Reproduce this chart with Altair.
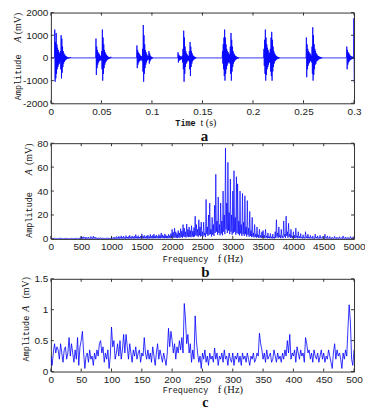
import altair as alt
import pandas as pd

# ---------------- Panel a : time signal (mV), bursts sampled every DT seconds
DT = 0.00035
BURST_STARTS = [0.0035, 0.0443, 0.0848, 0.1255, 0.1695, 0.2105, 0.2525, 0.2925]
B1 = [0, 1250, -1050, 700, -900, 1100, -700, 600, -500, 450, -400, 350, -300, 250, -250, 200, -150, 300, -500, 1000,
      -900, 850, -650, 500, -400, 300, -250, 200, -180, 150, -120, 100, -90, 80, -60, 50, -40, 40, -30, 30, -20, 20,
      -20, 15, -10, 40, -10, 10, 0]
B2 = [0, 850, -750, 500, -450, 350, -300, 250, -200, 200, -150, 150, -120, 100, -100, 80, -100, 300, -500, 1250,
      -1000, 900, -700, 600, -450, 350, -300, 250, -200, 180, -150, 120, -100, 90, -70, 60, -50, 40, -40, 30, -25, 20,
      -15, 50, -10, 10, -10, 0]
B3 = [0, 550, -450, 350, -300, 250, -200, 200, -150, 150, -120, 100, -100, 80, -80, 60, -150, 400, -600, 1450,
      -1050, 1000, -700, 600, -450, 350, -300, 250, -200, 150, -120, 100, -80, 80, -60, 300, -250, 200, -150, 100,
      -80, 60, -50, 40, -30, 20, -20, 10, 0]
B4 = [0, 250, -200, 150, -120, 100, -100, 80, -80, 60, -60, 50, -60, 100, -200, 400, -500, 1200, -1050, 900, -700,
      500, -400, 300, -250, 200, -200, 150, -120, 100, -100, 80, -150, 300, -500, 700, -800, 500, -400, 300, -250,
      200, -150, 120, -100, 80, -70, 60, -50, 40, -30, 30, -20, 10, 0]
B5 = [0, 300, -250, 600, -500, 900, -800, 1250, -1000, 900, -700, 600, -500, 400, -350, 300, -250, 250, -200, 200,
      -180, 150, -250, 500, -700, 1100, -1000, 800, -600, 500, -400, 300, -250, 200, -180, 150, -120, 100, -80, 80,
      -60, 50, -40, 40, -30, 30, -20, 20, -15, 10, -10, 0]
B6 = [0, 400, -350, 800, -700, 1250, -1000, 900, -750, 600, -500, 450, -400, 350, -300, 250, -200, 200, -200, 400,
      -600, 900, -800, 1150, -1000, 800, -600, 500, -400, 300, -250, 200, -150, 150, -120, 100, -80, 80, -60, 50, -40,
      40, -30, 30, -20, 20, -10, 0]
B7 = [0, 900, -850, 600, -500, 400, -350, 300, -250, 250, -200, 200, -150, 150, -120, 100, -200, 500, -700, 1350,
      -1000, 1000, -750, 600, -500, 400, -300, 300, -250, 200, -150, 150, -120, 100, -100, 80, -60, 60, -50, 50, -40,
      40, -30, 30, -20, 20, -10, 0]
B8 = [0, 500, -500, 350, -300, 250, -200, 200, -150, 150, -100, 100, -80, 80, -60, 60, -50, 50, -40, 40, -30, 1750,
      -1100]
BURSTS = [B1, B2, B3, B4, B5, B6, B7, B8]

# ---------------- Panel b : spectrum 0-5000 Hz, 10 Hz step (mV)
SPEC_B = [
    0.5, 0.1, 0.8, 0.2, 0.4, 0.1, 0.6, 0.2, 0.3, 0.1,
    0.7, 0.2, 0.4, 0.1, 0.5, 0.2, 0.9, 0.1, 0.4, 0.2,
    0.6, 0.1, 0.3, 0.2, 0.8, 0.1, 0.5, 0.2, 0.4, 0.1,
    0.6, 0.2, 0.3, 0.1, 0.7, 0.2, 0.4, 0.1, 0.5, 0.2,
    0.8, 0.1, 0.4, 0.2, 0.6, 0.1, 0.3, 0.2, 0.9, 0.1,
    2.2, 0.3, 1.5, 0.2, 1.8, 0.4, 1.2, 0.2, 1.6, 0.3,
    1.0, 0.2, 1.4, 0.3, 0.9, 0.2, 2.0, 0.4, 1.1, 0.2,
    2.3, 0.3, 1.2, 0.2, 1.5, 0.3, 0.8, 0.2, 1.0, 0.1,
    0.7, 0.2, 1.1, 0.1, 0.6, 0.2, 0.9, 0.1, 0.5, 0.2,
    0.8, 0.1, 0.6, 0.2, 1.0, 0.1, 0.7, 0.2, 0.5, 0.1,
    1.4, 0.2, 0.9, 0.3, 1.6, 0.2, 1.1, 0.3, 2.0, 0.2,
    1.2, 0.3, 2.2, 0.2, 1.4, 0.4, 2.6, 0.3, 1.5, 0.2,
    2.4, 0.4, 1.3, 0.2, 2.8, 0.5, 1.6, 0.3, 2.0, 0.2,
    3.0, 0.4, 1.5, 0.3, 2.5, 0.5, 1.8, 0.2, 2.2, 0.4,
    3.6, 0.5, 1.9, 0.3, 2.7, 0.4, 1.6, 0.3, 2.4, 0.5,
    4.2, 0.6, 2.3, 0.4, 3.0, 0.5, 1.8, 0.3, 2.6, 0.4,
    3.2, 0.5, 2.0, 0.4, 3.8, 0.6, 2.2, 0.4, 3.0, 0.5,
    4.0, 0.6, 2.5, 0.5, 3.2, 0.7, 2.0, 0.4, 3.6, 0.6,
    2.8, 0.5, 5.0, 0.8, 3.4, 0.6, 2.6, 0.5, 4.2, 0.7,
    3.0, 0.6, 2.4, 0.5, 3.8, 0.7, 2.8, 0.6, 4.5, 0.8,
    8.0, 1.0, 5.5, 0.8, 9.0, 1.2, 6.0, 1.0, 4.5, 0.8,
    7.0, 1.2, 5.0, 0.9, 8.5, 1.5, 6.5, 1.0, 12.0, 2.0,
    9.0, 1.5, 6.0, 1.2, 12.5, 2.0, 8.0, 1.5, 10.0, 1.8,
    7.0, 1.4, 11.0, 2.0, 6.5, 1.5, 9.5, 2.0, 19.0, 3.0,
    12.0, 2.5, 8.0, 1.8, 16.0, 3.0, 10.0, 2.0, 14.0, 2.5,
    6.0, 2.0, 14.0, 3.0, 5.0, 1.5, 33.0, 4.0, 10.0, 2.5,
    20.0, 3.5, 30.0, 4.0, 8.0, 2.0, 18.0, 3.5, 12.0, 2.5,
    28.0, 5.0, 54.0, 6.0, 15.0, 3.5, 35.0, 5.0, 12.0, 3.0,
    30.0, 4.5, 15.0, 3.0, 40.0, 6.0, 20.0, 4.0, 76.0, 8.0,
    30.0, 5.0, 64.0, 7.0, 22.0, 4.0, 50.0, 6.0, 20.0, 3.5,
    40.0, 5.0, 57.0, 6.0, 18.0, 3.5, 52.0, 5.0, 46.0, 4.0,
    15.0, 3.0, 40.0, 4.5, 12.0, 2.5, 38.0, 4.0, 14.0, 2.5,
    36.0, 4.0, 10.0, 2.0, 32.0, 3.5, 9.0, 1.8, 23.0, 2.5,
    7.0, 1.5, 18.0, 2.0, 5.0, 1.2, 12.0, 1.8, 4.0, 1.0,
    10.0, 1.5, 3.5, 0.8, 8.0, 1.2, 3.0, 0.7, 6.0, 1.0,
    7.0, 1.0, 3.0, 0.6, 8.0, 1.2, 2.5, 0.5, 5.0, 0.8,
    2.0, 0.5, 4.5, 0.7, 1.8, 0.4, 4.0, 0.6, 1.5, 0.4,
    6.0, 0.8, 16.0, 2.0, 5.0, 0.8, 10.0, 1.5, 3.0, 0.6,
    8.0, 1.2, 2.5, 0.6, 15.0, 2.0, 4.0, 0.8, 19.0, 2.5,
    6.0, 1.0, 13.0, 1.8, 4.0, 0.8, 8.0, 1.2, 2.5, 0.6,
    6.0, 0.8, 3.0, 0.6, 9.0, 1.2, 2.5, 0.5, 6.0, 0.8,
    2.0, 0.5, 4.5, 0.7, 1.5, 0.4, 3.5, 0.6, 1.2, 0.3,
    6.0, 0.8, 2.0, 0.5, 4.0, 0.6, 1.5, 0.4, 3.0, 0.5,
    1.2, 0.3, 2.5, 0.4, 1.0, 0.3, 4.0, 0.6, 1.5, 0.4,
    2.5, 0.4, 1.0, 0.3, 3.0, 0.5, 1.0, 0.3, 2.0, 0.4,
    0.8, 0.2, 4.0, 0.5, 1.2, 0.3, 2.5, 0.4, 1.0, 0.3,
    2.0, 0.4, 0.8, 0.2, 1.5, 0.3, 0.6, 0.2, 2.2, 0.4,
    0.8, 0.2, 1.5, 0.3, 0.6, 0.2, 1.8, 0.3, 0.7, 0.2,
    1.2, 0.3, 2.5, 0.4, 0.8, 0.2, 1.6, 0.3, 0.6, 0.2,
    1.4, 0.3, 0.5, 0.2, 2.0, 0.4, 0.7, 0.2, 1.5, 0.3,
    0.8,
]
STEP_B = 10

# ---------------- Panel c : spectrum 0-500 Hz, 2 Hz step (mV)
SPEC_C = [
    0.25, 0.1, 0.3, 0.45, 0.3, 0.4, 0.35, 0.2, 0.45, 0.3,
    0.15, 0.35, 0.4, 0.2, 0.3, 0.55, 0.25, 0.45, 0.3, 0.15,
    0.35, 0.2, 0.55, 0.1, 0.4, 0.5, 0.65, 0.3, 0.05, 0.25,
    0.3, 0.15, 0.35, 0.2, 0.25, 0.1, 0.3, 0.2, 0.35, 0.25,
    0.45, 0.5, 0.3, 0.4, 0.15, 0.3, 0.2, 0.35, 0.05, 0.25,
    0.72, 0.4, 0.5, 0.2, 0.3, 0.45, 0.25, 0.5, 0.2, 0.35,
    0.6, 0.3, 0.6, 0.4, 0.2, 0.45, 0.3, 0.15, 0.35, 0.25,
    0.4, 0.2, 0.3, 0.35, 0.15, 0.3, 0.25, 0.55, 0.3, 0.2,
    0.35, 0.2, 0.3, 0.15, 0.4, 0.25, 0.1, 0.3, 0.45, 0.2,
    0.35, 0.25, 0.15, 0.3, 0.2, 0.1, 0.3, 0.7, 0.4, 0.65,
    0.5, 0.3, 0.45, 0.2, 0.4, 0.3, 0.5, 0.35, 0.55, 0.3,
    1.1, 0.85, 0.45, 0.6, 0.3, 0.45, 0.15, 0.35, 0.2, 0.9,
    0.5, 0.3, 0.15, 0.25, 0.05, 0.3, 0.2, 0.35, 0.15, 0.25,
    0.1, 0.3, 0.2, 0.25, 0.15, 0.38, 0.2, 0.3, 0.1, 0.25,
    0.2, 0.3, 0.15, 0.35, 0.2, 0.25, 0.1, 0.3, 0.2, 0.15,
    0.3, 0.1, 0.25, 0.2, 0.3, 0.15, 0.25, 0.1, 0.3, 0.2,
    0.25, 0.15, 0.3, 0.2, 0.1, 0.25, 0.2, 0.3, 0.15, 0.2,
    0.3, 0.25, 0.62, 0.45, 0.35, 0.2, 0.3, 0.15, 0.35, 0.2,
    0.25, 0.3, 0.15, 0.2, 0.35, 0.25, 0.15, 0.3, 0.2, 0.25,
    0.15, 0.3, 0.2, 0.35, 0.25, 0.5, 0.3, 0.6, 0.2, 0.3,
    0.25, 0.35, 0.15, 0.4, 0.3, 0.2, 0.35, 0.25, 0.3, 0.15,
    0.55, 0.45, 0.3, 0.35, 0.2, 0.3, 0.15, 0.35, 0.25, 0.2,
    0.3, 0.15, 0.25, 0.35, 0.2, 0.3, 0.15, 0.25, 0.2, 0.35,
    0.25, 0.15, 0.05, 0.3, 0.45, 0.2, 0.35, 0.25, 0.3, 0.2,
    0.05, 0.3, 0.2, 0.35, 0.25, 0.7, 1.08, 0.8, 0.2, 0.1,
    0.35,
]
STEP_C = 2

# ---------------- Axis ticks
XA_TICKS = [0, 0.05, 0.1, 0.15, 0.2, 0.25, 0.3]
YA_TICKS = [-2000, -1000, 0, 1000, 2000]
XB_TICKS = [0, 500, 1000, 1500, 2000, 2500, 3000, 3500, 4000, 4500, 5000]
YB_TICKS = [0, 20, 40, 60, 80]
XC_TICKS = [0, 50, 100, 150, 200, 250, 300, 350, 400, 450, 500]
YC_TICKS = [0, 0.5, 1, 1.5]

# ---------------- build tables
ta, va = [0.0], [0]
for s, vals in zip(BURST_STARTS, BURSTS):
    for j, v in enumerate(vals):
        ta.append(round(s + j * DT, 6))
        va.append(v)
df_a = pd.DataFrame({"x": ta, "y": va})
df_b = pd.DataFrame({"x": [i * STEP_B for i in range(len(SPEC_B))], "y": SPEC_B})
df_c = pd.DataFrame({"x": [i * STEP_C for i in range(len(SPEC_C))], "y": SPEC_C})

W = 304
BLUE = "#0000ff"
AX = "#333333"
ONE = pd.DataFrame({"k": [0]})
MONO = "Liberation Mono"
SERIF = "Liberation Serif"


def axis(vals):
    return alt.Axis(values=vals, labelExpr="'' + datum.value", ticks=False, domain=False, grid=False,
                    title=None, labelFont="Liberation Sans", labelFontSize=10, labelColor="#222222",
                    labelPadding=3, labelOverlap=False, labelFlush=False, labelBound=False)


def txt(text, x, y, font, size, angle=0, style="normal", weight="normal", baseline="middle"):
    return alt.Chart(ONE).mark_text(text=text, font=font, fontSize=size, angle=angle, fontStyle=style,
                                    fontWeight=weight, color="#111111", align="center",
                                    baseline=baseline).encode(x=alt.value(x), y=alt.value(y))


def panel(df, xdom, ydom, xt, yt, H, sw, texts):
    xs = alt.Scale(domain=xdom, nice=False, zero=False)
    ys = alt.Scale(domain=ydom, nice=False, zero=False)
    xa, ya = axis(xt), axis(yt)
    line = alt.Chart(df).mark_line(color=BLUE, strokeWidth=sw, clip=True).encode(
        x=alt.X("x:Q", scale=xs, axis=xa),
        y=alt.Y("y:Q", scale=ys, axis=ya),
    )
    xtd = pd.DataFrame({"x": xt})
    ytd = pd.DataFrame({"y": yt})
    tb = alt.Chart(xtd).mark_rule(color=AX, strokeWidth=1).encode(
        x=alt.X("x:Q", scale=xs, axis=xa), y=alt.value(H), y2=alt.value(H - 3))
    tt = alt.Chart(xtd).mark_rule(color=AX, strokeWidth=1).encode(
        x=alt.X("x:Q", scale=xs, axis=xa), y=alt.value(0), y2=alt.value(3))
    tl = alt.Chart(ytd).mark_rule(color=AX, strokeWidth=1).encode(
        y=alt.Y("y:Q", scale=ys, axis=ya), x=alt.value(0), x2=alt.value(3))
    tr = alt.Chart(ytd).mark_rule(color=AX, strokeWidth=1).encode(
        y=alt.Y("y:Q", scale=ys, axis=ya), x=alt.value(W), x2=alt.value(W - 3))
    return alt.layer(line, tb, tt, tl, tr, *texts).properties(width=W, height=H)


HA, HB, HC = 91, 96, 93

texts_a = [
    txt("Amplitude", -33, round(HA * 0.71), MONO, 8.5, angle=270),
    txt("A", -33, round(HA * 0.30), SERIF, 10, angle=270, style="italic"),
    txt("(mV)", -33, round(HA * 0.12), SERIF, 10, angle=270),
    txt("Time", 135, HA + 20, MONO, 8.5, weight="bold"),
    txt("t (s)", 158, HA + 20, SERIF, 10),
    txt("a", 154, HA + 38, SERIF, 15, weight="bold", baseline="alphabetic"),
]
texts_b = [
    txt("Amplitude", -22, round(HB * 0.75), MONO, 8.5, angle=270),
    txt("A", -22, round(HB * 0.30), SERIF, 10, angle=270, style="italic"),
    txt("(mV)", -22, round(HB * 0.11), SERIF, 10, angle=270),
    txt("Frequency", 135, HB + 20, MONO, 8.5),
    txt("f (Hz)", 180, HB + 20, SERIF, 10.5),
    txt("b", 155, HB + 38, SERIF, 15, weight="bold", baseline="alphabetic"),
]
texts_c = [
    txt("Amplitude", -25, round(HC * 0.64), MONO, 8.5, angle=270),
    txt("A", -25, round(HC * 0.32), SERIF, 10, angle=270, style="italic"),
    txt("(mV)", -25, round(HC * 0.10), SERIF, 10, angle=270),
    txt("Frequency", 135, HC + 19, MONO, 8.5),
    txt("f (Hz)", 180, HC + 19, SERIF, 10.5),
    txt("c", 155, HC + 36, SERIF, 14, weight="bold", baseline="alphabetic"),
]

pa = panel(df_a, [0, 0.3], [-2000, 2000], XA_TICKS, YA_TICKS, HA, 0.8, texts_a)
pb = panel(df_b, [0, 5000], [0, 80], XB_TICKS, YB_TICKS, HB, 0.7, texts_b)
pc = panel(df_c, [0, 500], [0, 1.5], XC_TICKS, YC_TICKS, HC, 0.8, texts_c)

chart = alt.vconcat(pa, pb, pc, spacing=40, bounds="flush").properties(
    padding={"left": 4, "top": -2, "right": -1, "bottom": -2}
).configure_view(stroke=AX, strokeWidth=1)

chart.save("out.html", embed_options={"renderer": "svg", "actions": False})
